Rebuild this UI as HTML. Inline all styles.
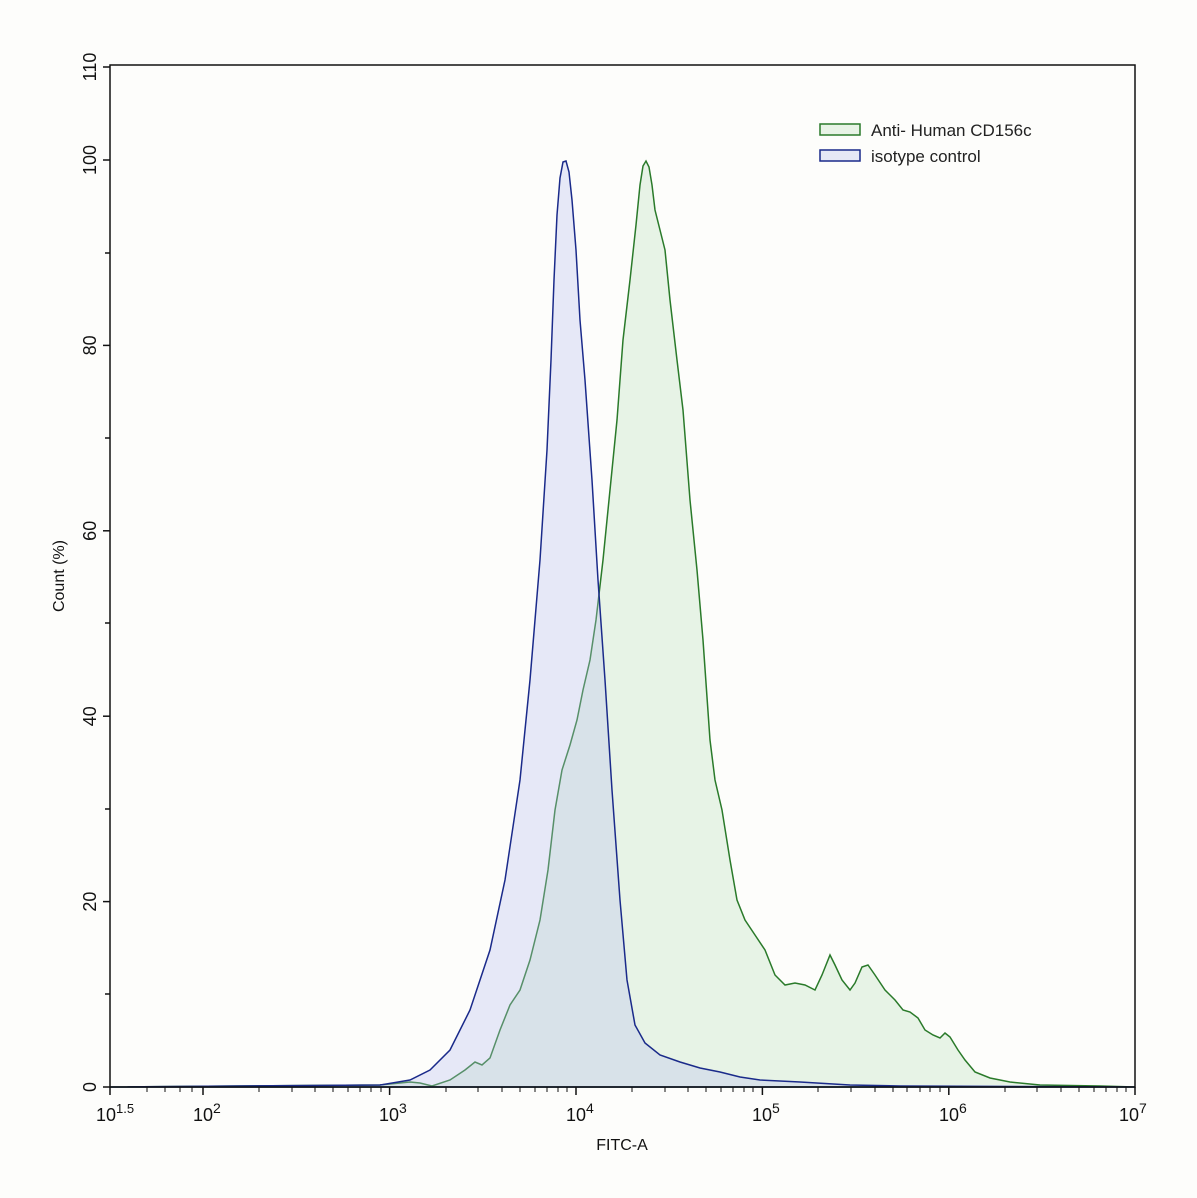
<!DOCTYPE html><html><head><style>body{margin:0;background:#fdfdfb}</style></head><body>
<svg width="1197" height="1193" xmlns="http://www.w3.org/2000/svg" font-family="Liberation Sans, sans-serif">
<rect width="1197" height="1193" fill="#fdfdfb"/>
<path d="M110,1087 L380,1085 L410,1082 L420,1083 L432,1086 L450,1080 L465,1070 L475,1062 L482,1065 L490,1058 L500,1030 L510,1005 L520,990 L530,960 L540,920 L548,870 L555,810 L562,770 L570,745 L577,720 L583,690 L590,660 L596,620 L603,560 L610,490 L617,420 L623,340 L630,280 L636,225 L640,185 L643,166 L646,161 L649,167 L652,185 L655,210 L660,230 L665,250 L670,300 L677,360 L683,410 L690,500 L697,570 L703,640 L710,740 L715,780 L722,810 L730,860 L737,900 L745,920 L755,935 L765,950 L775,975 L785,985 L795,983 L805,985 L815,990 L822,975 L830,955 L835,965 L842,980 L850,990 L855,983 L862,967 L868,965 L875,975 L885,990 L895,1000 L903,1010 L910,1012 L918,1018 L925,1030 L933,1035 L940,1038 L945,1033 L950,1037 L958,1050 L965,1060 L975,1072 L990,1078 L1010,1082 L1040,1085 L1100,1086 L1135,1087 Z" fill="rgba(175,220,175,0.28)" stroke="#2a7a2a" stroke-width="1.5"/>
<path d="M110,1087 L380,1085 L410,1080 L430,1070 L450,1050 L470,1010 L490,950 L505,880 L520,780 L530,680 L540,560 L547,450 L551,360 L554,280 L557,215 L560,178 L563,162 L566,161 L569,172 L572,200 L576,250 L580,320 L585,380 L592,480 L598,580 L605,680 L612,790 L620,900 L627,980 L635,1025 L645,1043 L660,1055 L680,1062 L700,1068 L720,1072 L740,1077 L760,1080 L800,1082 L850,1085 L900,1086 L1135,1087 Z" fill="rgba(185,190,240,0.32)" stroke="#1a2a8a" stroke-width="1.5"/>
<rect x="110" y="65" width="1025" height="1022" fill="none" stroke="#111" stroke-width="1.5"/>
<g stroke="#111" stroke-width="1.5">
<line x1="103" y1="1087" x2="110" y2="1087"/><line x1="103" y1="901.6" x2="110" y2="901.6"/><line x1="103" y1="716.2" x2="110" y2="716.2"/><line x1="103" y1="530.8" x2="110" y2="530.8"/><line x1="103" y1="345.4" x2="110" y2="345.4"/><line x1="103" y1="160" x2="110" y2="160"/><line x1="103" y1="67" x2="110" y2="67"/>
<line x1="105" y1="994" x2="110" y2="994"/><line x1="105" y1="809" x2="110" y2="809"/><line x1="105" y1="623" x2="110" y2="623"/><line x1="105" y1="438" x2="110" y2="438"/><line x1="105" y1="253" x2="110" y2="253"/>
<line x1="110" y1="1087" x2="110" y2="1095"/><line x1="203" y1="1087" x2="203" y2="1095"/><line x1="389.6" y1="1087" x2="389.6" y2="1095"/><line x1="576" y1="1087" x2="576" y2="1095"/><line x1="762.4" y1="1087" x2="762.4" y2="1095"/><line x1="948.8" y1="1087" x2="948.8" y2="1095"/><line x1="1135" y1="1087" x2="1135" y2="1095"/>
</g>
<g stroke="#111" stroke-width="1">
<line x1="147" y1="1087" x2="147" y2="1092"/><line x1="165" y1="1087" x2="165" y2="1092"/><line x1="180" y1="1087" x2="180" y2="1092"/><line x1="192" y1="1087" x2="192" y2="1092"/>
<line x1="259" y1="1087" x2="259" y2="1092"/><line x1="292" y1="1087" x2="292" y2="1092"/><line x1="315" y1="1087" x2="315" y2="1092"/><line x1="333" y1="1087" x2="333" y2="1092"/><line x1="348" y1="1087" x2="348" y2="1092"/><line x1="360" y1="1087" x2="360" y2="1092"/><line x1="371" y1="1087" x2="371" y2="1092"/><line x1="381" y1="1087" x2="381" y2="1092"/>
<line x1="446" y1="1087" x2="446" y2="1092"/><line x1="478" y1="1087" x2="478" y2="1092"/><line x1="502" y1="1087" x2="502" y2="1092"/><line x1="520" y1="1087" x2="520" y2="1092"/><line x1="535" y1="1087" x2="535" y2="1092"/><line x1="547" y1="1087" x2="547" y2="1092"/><line x1="558" y1="1087" x2="558" y2="1092"/><line x1="567" y1="1087" x2="567" y2="1092"/>
<line x1="632" y1="1087" x2="632" y2="1092"/><line x1="665" y1="1087" x2="665" y2="1092"/><line x1="688" y1="1087" x2="688" y2="1092"/><line x1="706" y1="1087" x2="706" y2="1092"/><line x1="721" y1="1087" x2="721" y2="1092"/><line x1="733" y1="1087" x2="733" y2="1092"/><line x1="744" y1="1087" x2="744" y2="1092"/><line x1="753" y1="1087" x2="753" y2="1092"/>
<line x1="818" y1="1087" x2="818" y2="1092"/><line x1="851" y1="1087" x2="851" y2="1092"/><line x1="875" y1="1087" x2="875" y2="1092"/><line x1="893" y1="1087" x2="893" y2="1092"/><line x1="907" y1="1087" x2="907" y2="1092"/><line x1="920" y1="1087" x2="920" y2="1092"/><line x1="930" y1="1087" x2="930" y2="1092"/><line x1="940" y1="1087" x2="940" y2="1092"/>
<line x1="1005" y1="1087" x2="1005" y2="1092"/><line x1="1037" y1="1087" x2="1037" y2="1092"/><line x1="1061" y1="1087" x2="1061" y2="1092"/><line x1="1079" y1="1087" x2="1079" y2="1092"/><line x1="1094" y1="1087" x2="1094" y2="1092"/><line x1="1106" y1="1087" x2="1106" y2="1092"/><line x1="1117" y1="1087" x2="1117" y2="1092"/><line x1="1126" y1="1087" x2="1126" y2="1092"/>
</g>
<g font-size="18" fill="#111" text-anchor="middle">
<text transform="translate(96,1087) rotate(-90)">0</text>
<text transform="translate(96,901.6) rotate(-90)">20</text>
<text transform="translate(96,716.2) rotate(-90)">40</text>
<text transform="translate(96,530.8) rotate(-90)">60</text>
<text transform="translate(96,345.4) rotate(-90)">80</text>
<text transform="translate(96,160) rotate(-90)">100</text>
<text transform="translate(96,67) rotate(-90)">110</text>
<text transform="translate(64,576) rotate(-90)" font-size="16">Count  (%)</text>
<text x="622" y="1150" font-size="16">FITC-A</text>
</g>
<g font-size="18" fill="#111">
<text x="96" y="1121">10<tspan dy="-8" font-size="13">1.5</tspan></text>
<text x="193" y="1121">10<tspan dy="-8" font-size="14">2</tspan></text>
<text x="379" y="1121">10<tspan dy="-8" font-size="14">3</tspan></text>
<text x="566" y="1121">10<tspan dy="-8" font-size="14">4</tspan></text>
<text x="752" y="1121">10<tspan dy="-8" font-size="14">5</tspan></text>
<text x="939" y="1121">10<tspan dy="-8" font-size="14">6</tspan></text>
<text x="1119" y="1121">10<tspan dy="-8" font-size="14">7</tspan></text>
</g>
<rect x="820" y="124" width="40" height="11" fill="#e8f3e6" stroke="#2a7a2a" stroke-width="1.5"/>
<rect x="820" y="150" width="40" height="11" fill="#e6e8f6" stroke="#1a2a8a" stroke-width="1.5"/>
<text x="871" y="136" font-size="17" fill="#222">Anti- Human CD156c</text>
<text x="871" y="162" font-size="17" fill="#222">isotype control</text>
</svg></body></html>
